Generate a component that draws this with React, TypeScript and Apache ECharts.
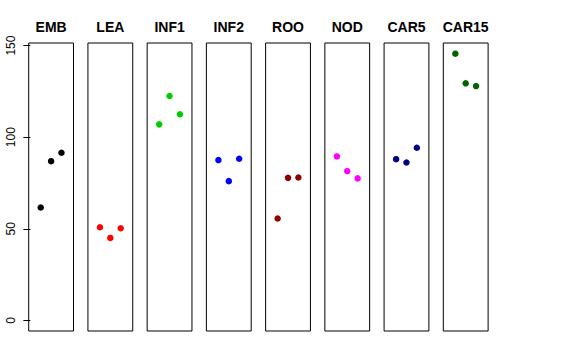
import React, { useEffect, useRef } from "react";
import * as echarts from "echarts";

const categories = ["EMB", "LEA", "INF1", "INF2", "ROO", "NOD", "CAR5", "CAR15"];
const positions = [1, 2, 3];
const emb = [61.6, 86.9, 91.5];
const lea = [50.8, 45.0, 50.3];
const inf1 = [107.0, 122.5, 112.5];
const inf2 = [87.5, 76.0, 88.2];
const roo = [55.6, 77.8, 78.0];
const nod = [89.5, 81.5, 77.5];
const car5 = [88.0, 86.2, 94.2];
const car15 = [145.6, 129.4, 127.9];
const seriesValues = [emb, lea, inf1, inf2, roo, nod, car5, car15];
const colors = ["#000000", "#FF0000", "#00CD00", "#0000FF", "#8B0000", "#FF00FF", "#00008B", "#006400"];
const yTicks = [0, 50, 100, 150];

export default function App() {
  const ref = useRef<HTMLDivElement>(null);
  useEffect(() => {
    if (!ref.current) return;
    const chart = echarts.init(ref.current, null, { renderer: "svg" });
    const allVals = seriesValues.flat();
    const dMax = Math.max(...allVals);
    const dMin = 0;
    const pad = 0.04 * (dMax - dMin);
    const yMin = dMin - pad;
    const yMax = dMax + pad;
    const xPad = 0.04 * 4;

    const left0 = 28.7;
    const step = 59.23;
    const width = 44.8;
    const top = 43;
    const height = 288;

    const grids = categories.map((_, i) => ({
      left: left0 + i * step,
      top,
      width,
      height,
      show: true,
      borderColor: "#000",
      borderWidth: 1,
      backgroundColor: "transparent",
    }));
    const xAxes = categories.map((_, i) => ({
      type: "value",
      gridIndex: i,
      min: -xPad,
      max: 4 + xPad,
      show: false,
    }));
    const yAxes = categories.map((_, i) => ({
      type: "value",
      gridIndex: i,
      min: yMin,
      max: yMax,
      show: i === 0,
      splitLine: { show: false },
      axisLine: { show: false },
      axisTick: {
        show: i === 0,
        length: 7,
        lineStyle: { color: "#000", width: 1 },
        customValues: yTicks,
      },
      axisLabel: {
        show: i === 0,
        rotate: 90,
        margin: 12,
        color: "#000",
        fontSize: 12,
        fontFamily: "Liberation Sans, Arial, sans-serif",
        customValues: yTicks,
      },
    }));
    const titles = categories.map((c, i) => ({
      text: c,
      left: left0 + i * step + width / 2,
      textAlign: "center",
      top: 20,
      padding: 0,
      textStyle: {
        fontSize: 14,
        fontWeight: "bold",
        color: "#000",
        fontFamily: "Liberation Sans, Arial, sans-serif",
      },
    }));
    const series = categories.map((c, i) => ({
      type: "scatter",
      name: c,
      xAxisIndex: i,
      yAxisIndex: i,
      symbol: "circle",
      symbolSize: 6.5,
      itemStyle: { color: colors[i], opacity: 1 },
      data: seriesValues[i].map((v, j) => [positions[j], v]),
    }));

    chart.setOption({
      animation: false,
      backgroundColor: "#fff",
      title: titles,
      grid: grids,
      xAxis: xAxes,
      yAxis: yAxes,
      series,
    });
    return () => chart.dispose();
  }, []);
  return (
    <div
      ref={ref}
      style={{ position: "fixed", left: 0, top: 0, width: 576, height: 360 }}
    />
  );
}
